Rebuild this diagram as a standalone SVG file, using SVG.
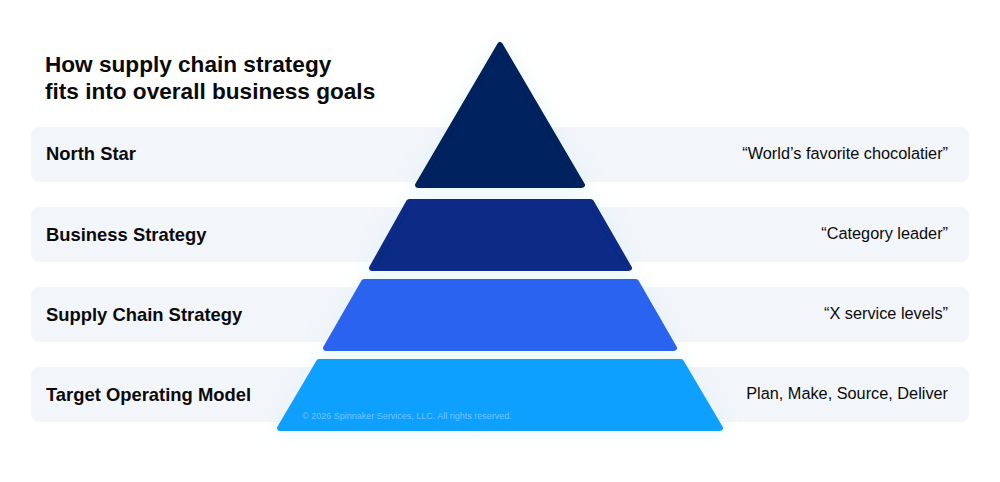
<svg xmlns="http://www.w3.org/2000/svg" width="1000" height="482" viewBox="0 0 1000 482">
<defs>
<style>
.band{fill:#f2f5fa}
.lbl{font-family:"Liberation Sans",Arial,sans-serif;font-weight:bold;font-size:18.4px;fill:#0a0a0a}
.val{font-family:"Liberation Sans",Arial,sans-serif;font-size:16.3px;fill:#0a0a0a;text-anchor:end}
.title{font-family:"Liberation Sans",Arial,sans-serif;font-weight:bold;font-size:22.6px;fill:#0a0a0a}
.copy{font-family:"Liberation Sans",Arial,sans-serif;font-size:9px;fill:#ffffff;fill-opacity:0.4}
.tier{stroke-linejoin:round;stroke-width:6}
</style>
<filter id="soft" x="-30%" y="-30%" width="160%" height="160%">
<feGaussianBlur in="SourceAlpha" stdDeviation="9" result="b"/>
<feFlood flood-color="#d6f1f3" flood-opacity="0.6"/>
<feComposite operator="in" in2="b"/>
<feMerge><feMergeNode/><feMergeNode in="SourceGraphic"/></feMerge>
</filter>
</defs>
<rect width="1000" height="482" fill="#ffffff"/>
<g id="title">
<text class="title" x="45" y="72">How supply chain strategy</text>
<text class="title" x="45" y="99">fits into overall business goals</text>
</g>
<g id="bands">
<rect class="band" x="31" y="127" width="938" height="55" rx="8"/>
<rect class="band" x="31" y="207" width="938" height="55" rx="8"/>
<rect class="band" x="31" y="287" width="938" height="55" rx="8"/>
<rect class="band" x="31" y="367" width="938" height="55" rx="8"/>
</g>
<g id="labels">
<text class="lbl" x="46" y="160">North Star</text>
<text class="lbl" x="46" y="241">Business Strategy</text>
<text class="lbl" x="46" y="321">Supply Chain Strategy</text>
<text class="lbl" x="46" y="401">Target Operating Model</text>
<text class="val" x="948" y="159">“World’s favorite chocolatier”</text>
<text class="val" x="948" y="239">“Category leader”</text>
<text class="val" x="948" y="319">“X service levels”</text>
<text class="val" x="948" y="399">Plan, Make, Source, Deliver</text>
</g>
<g id="pyramid" filter="url(#soft)">
<polygon id="tier1" class="tier" points="500,45 582,185 418,185" fill="#03205f" stroke="#03205f"/>
<polygon id="tier2" class="tier" points="409,202 591,202 629,268 372,268" fill="#072b86" stroke="#072b86"/>
<polygon id="tier3" class="tier" points="364,282 636,282 674,348 326,348" fill="#2c63f0" stroke="#2c63f0"/>
<polygon id="tier4" class="tier" points="319,362 681,362 720,428 280,428" fill="#0aa0ff" stroke="#0aa0ff"/>
</g>
<text class="copy" x="302" y="419">© 2026 Spinnaker Services, LLC. All rights reserved.</text>
</svg>
